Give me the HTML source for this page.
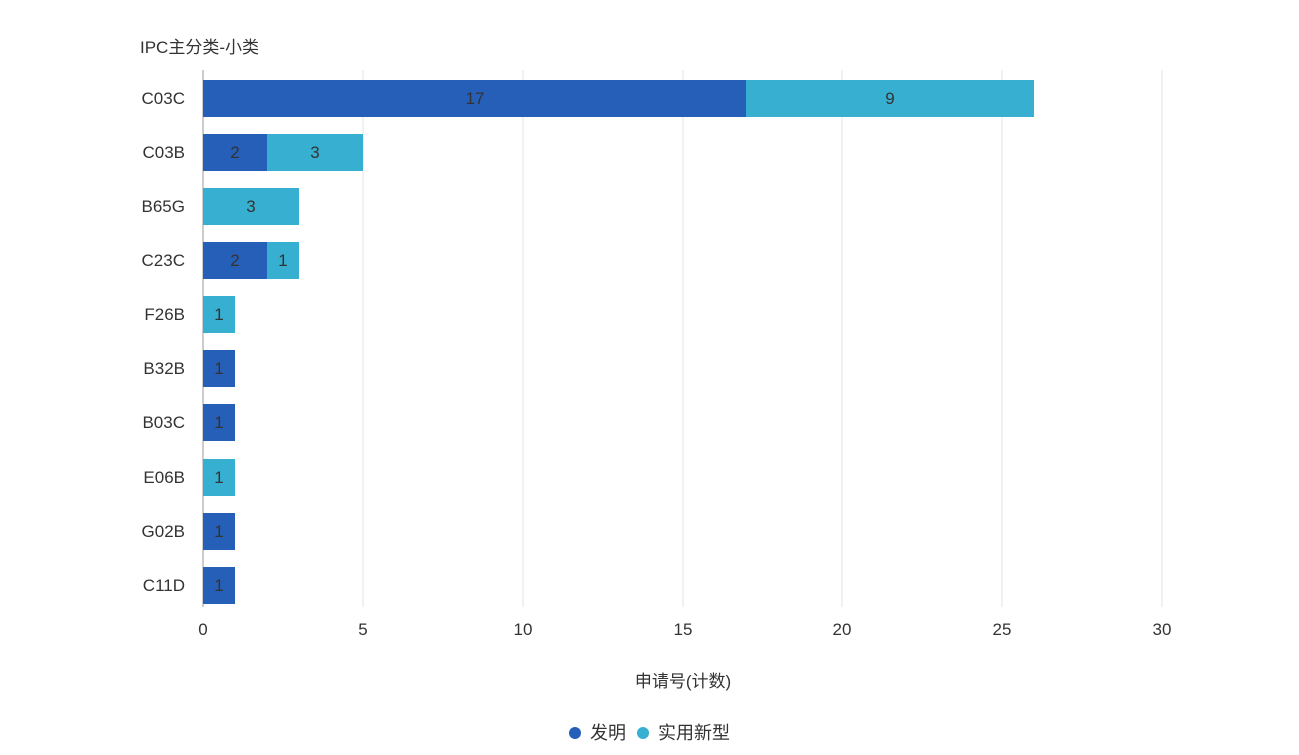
<!DOCTYPE html>
<html><head><meta charset="utf-8"><style>
body{margin:0;background:#fff;}
svg text{font-family:"Liberation Sans","Noto Sans CJK SC",sans-serif;}
</style></head><body>
<svg width="1299" height="750" xmlns="http://www.w3.org/2000/svg">
<text x="140" y="53" font-size="17" fill="#333">IPC主分类-小类</text>
<g stroke="#e3e3e8" stroke-width="1">
<line x1="363" y1="70" x2="363" y2="607"/><line x1="523" y1="70" x2="523" y2="607"/>
<line x1="683" y1="70" x2="683" y2="607"/><line x1="842" y1="70" x2="842" y2="607"/>
<line x1="1002" y1="70" x2="1002" y2="607"/><line x1="1162" y1="70" x2="1162" y2="607"/>
</g>
<line x1="203" y1="70" x2="203" y2="607" stroke="#999"/>
<g font-size="17" fill="#333" text-anchor="middle">
<text x="203" y="635">0</text><text x="363" y="635">5</text><text x="523" y="635">10</text>
<text x="683" y="635">15</text><text x="842" y="635">20</text><text x="1002" y="635">25</text><text x="1162" y="635">30</text>
<text x="683" y="687">申请号(计数)</text>
</g>
<g font-size="17" fill="#333" text-anchor="end">
<text x="185" y="104">C03C</text><text x="185" y="158">C03B</text><text x="185" y="212">B65G</text>
<text x="185" y="266">C23C</text><text x="185" y="320">F26B</text><text x="185" y="374">B32B</text>
<text x="185" y="428">B03C</text><text x="185" y="483">E06B</text><text x="185" y="537">G02B</text>
<text x="185" y="591">C11D</text>
</g>
<g>
<rect x="203" y="80" width="543" height="37" fill="#265fb7"/><rect x="746" y="80" width="288" height="37" fill="#36afd0"/>
<rect x="203" y="134" width="64" height="37" fill="#265fb7"/><rect x="267" y="134" width="96" height="37" fill="#36afd0"/>
<rect x="203" y="188" width="96" height="37" fill="#36afd0"/>
<rect x="203" y="242" width="64" height="37" fill="#265fb7"/><rect x="267" y="242" width="32" height="37" fill="#36afd0"/>
<rect x="203" y="296" width="32" height="37" fill="#36afd0"/>
<rect x="203" y="350" width="32" height="37" fill="#265fb7"/>
<rect x="203" y="404" width="32" height="37" fill="#265fb7"/>
<rect x="203" y="459" width="32" height="37" fill="#36afd0"/>
<rect x="203" y="513" width="32" height="37" fill="#265fb7"/>
<rect x="203" y="567" width="32" height="37" fill="#265fb7"/>
</g>
<g font-size="17" fill="#333" text-anchor="middle">
<text x="475" y="104">17</text><text x="890" y="104">9</text>
<text x="235" y="158">2</text><text x="315" y="158">3</text>
<text x="251" y="212">3</text>
<text x="235" y="266">2</text><text x="283" y="266">1</text>
<text x="219" y="320">1</text><text x="219" y="374">1</text><text x="219" y="428">1</text>
<text x="219" y="483">1</text><text x="219" y="537">1</text><text x="219" y="591">1</text>
</g>
<circle cx="575" cy="733" r="6" fill="#265fb7"/>
<text x="590" y="739" font-size="18" fill="#333">发明</text>
<circle cx="643" cy="733" r="6" fill="#36afd0"/>
<text x="658" y="739" font-size="18" fill="#333">实用新型</text>
</svg>
</body></html>
